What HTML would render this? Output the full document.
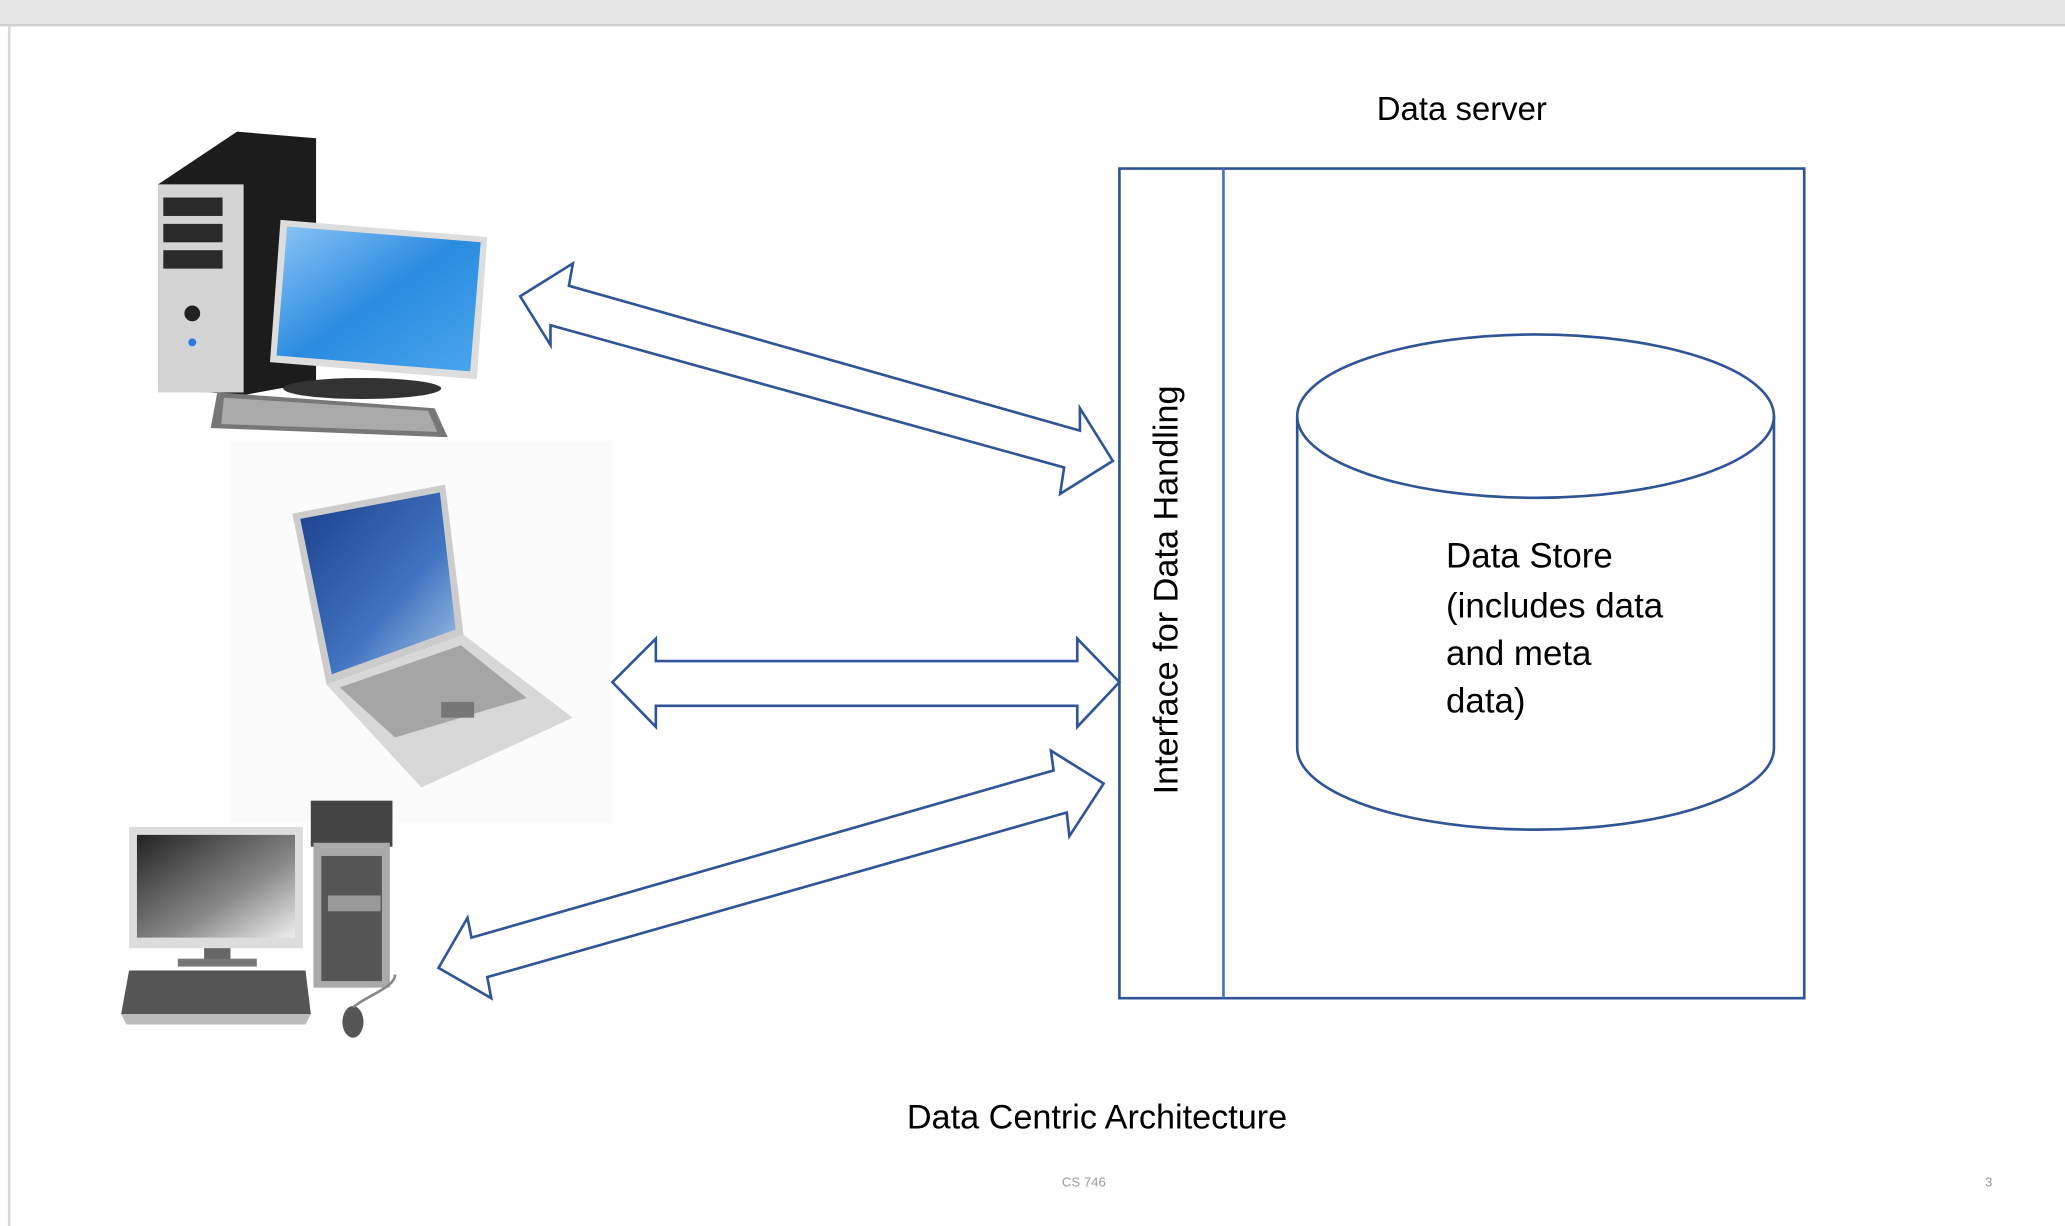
<!DOCTYPE html>
<html><head><meta charset="utf-8"><style>
html,body{margin:0;padding:0;background:#fff;}
svg{display:block;}
</style></head><body>
<svg width="2065" height="1226" viewBox="0 0 1568 931" preserveAspectRatio="none" xmlns="http://www.w3.org/2000/svg">
<defs>
<linearGradient id="scr" x1="0" y1="0" x2="1" y2="1"><stop offset="0" stop-color="#8cc4f5"/><stop offset="0.5" stop-color="#2a8be0"/><stop offset="1" stop-color="#4aa6ec"/></linearGradient>
<linearGradient id="lap" x1="0" y1="0" x2="1" y2="1"><stop offset="0" stop-color="#1b3f8a"/><stop offset="0.6" stop-color="#3f73c0"/><stop offset="1" stop-color="#a9c6e6"/></linearGradient>
<linearGradient id="gm" x1="0" y1="0" x2="1" y2="1"><stop offset="0" stop-color="#222"/><stop offset="0.6" stop-color="#888"/><stop offset="1" stop-color="#eee"/></linearGradient>
</defs>
<rect x="0" y="0" width="1568" height="931" fill="#fff"/>
<rect x="0" y="0" width="1568" height="18" fill="#e6e6e6"/>
<line x1="0" y1="19" x2="1568" y2="19" stroke="#cfcfcf" stroke-width="2"/>
<line x1="7" y1="19" x2="7" y2="931" stroke="#d6d6d6" stroke-width="2"/>

<!-- Computer 1 -->
<polygon points="120,140 180,100 240,105 240,290 185,300 120,295" fill="#1c1c1c"/>
<rect x="120" y="140" width="65" height="158" fill="#d4d4d4"/>
<rect x="124" y="150" width="45" height="14" fill="#2a2a2a"/>
<rect x="124" y="170" width="45" height="14" fill="#2a2a2a"/>
<rect x="124" y="190" width="45" height="14" fill="#2a2a2a"/>
<circle cx="146" cy="238" r="6" fill="#222"/>
<circle cx="146" cy="260" r="3" fill="#2a7be0"/>
<polygon points="213,167 370,180 362,288 205,275" fill="#ddd"/>
<polygon points="218,172 365,184 357,282 210,270" fill="url(#scr)"/>
<ellipse cx="275" cy="295" rx="60" ry="8" fill="#333"/>
<polygon points="165,298 330,310 340,332 160,325" fill="#777"/>
<polygon points="170,302 325,312 332,328 168,322" fill="#aaa"/>

<!-- Laptop -->
<rect x="175" y="335" width="290" height="290" fill="#fbfbfb"/>
<polygon points="222,390 338,368 352,482 248,520" fill="#ccc"/>
<polygon points="228,394 334,374 346,478 252,512" fill="url(#lap)"/>
<polygon points="248,520 352,482 435,545 320,598" fill="#d8d8d8"/>
<polygon points="258,522 350,490 400,530 300,560" fill="#a5a5a5"/>
<rect x="335" y="533" width="25" height="12" fill="#777"/>

<!-- Computer 3 -->
<rect x="98" y="628" width="132" height="92" fill="#ddd"/>
<rect x="104" y="634" width="120" height="78" fill="url(#gm)"/>
<rect x="155" y="720" width="20" height="10" fill="#666"/>
<rect x="135" y="728" width="60" height="6" fill="#777"/>
<rect x="236" y="608" width="62" height="35" fill="#444"/>
<rect x="238" y="640" width="58" height="110" fill="#aaa"/>
<rect x="244" y="650" width="46" height="95" fill="#555"/>
<rect x="249" y="680" width="40" height="12" fill="#999"/>
<polygon points="98,737 232,737 236,770 92,770" fill="#555"/>
<polygon points="92,770 236,770 232,778 96,778" fill="#bbb"/>
<ellipse cx="268" cy="776" rx="8" ry="12" fill="#555"/>
<path d="M268,765 C280,755 300,750 300,740" stroke="#888" stroke-width="2" fill="none"/>

<!-- Arrows -->
<g fill="#fff" stroke="#2f5597" stroke-width="2" stroke-linejoin="miter">
<polygon points="395,225 435,200 432,217 820,327 820,310 845,350 805,375 808,355 418,247 418,262"/>
<polygon points="465,518 498,485 498,502 818,502 818,485 850,518 818,552 818,536 498,536 498,552"/>
<polygon points="333,735 355,697 358,712 800,585 798,570 838,595 812,635 810,617 370,742 373,758"/>
</g>

<!-- Server box -->
<rect x="850" y="128" width="520" height="630" fill="none" stroke="#2f5597" stroke-width="2"/>
<line x1="929" y1="128" x2="929" y2="758" stroke="#4472c4" stroke-width="2"/>
<text x="1110" y="91" font-family="Liberation Sans, sans-serif" font-size="25" text-anchor="middle" fill="#000">Data server</text>
<text transform="translate(894,448) rotate(-90)" font-family="Liberation Sans, sans-serif" font-size="26" text-anchor="middle" fill="#000">Interface for Data Handling</text>

<!-- Cylinder -->
<path d="M985,316 L985,568 A181,62 0 0 0 1347,568 L1347,316" fill="none" stroke="#2f5597" stroke-width="2"/>
<ellipse cx="1166" cy="316" rx="181" ry="62" fill="none" stroke="#2f5597" stroke-width="2"/>
<g font-family="Liberation Sans, sans-serif" font-size="26.5" fill="#000">
<text x="1098" y="431">Data Store</text>
<text x="1098" y="469">(includes data</text>
<text x="1098" y="505">and meta</text>
<text x="1098" y="541">data)</text>
</g>

<text x="833" y="857" font-family="Liberation Sans, sans-serif" font-size="26" text-anchor="middle" fill="#000">Data Centric Architecture</text>
<text x="823" y="901" font-family="Liberation Sans, sans-serif" font-size="10" text-anchor="middle" fill="#999">CS 746</text>
<text x="1510" y="901" font-family="Liberation Sans, sans-serif" font-size="10" text-anchor="middle" fill="#999">3</text>
</svg>
</body></html>
